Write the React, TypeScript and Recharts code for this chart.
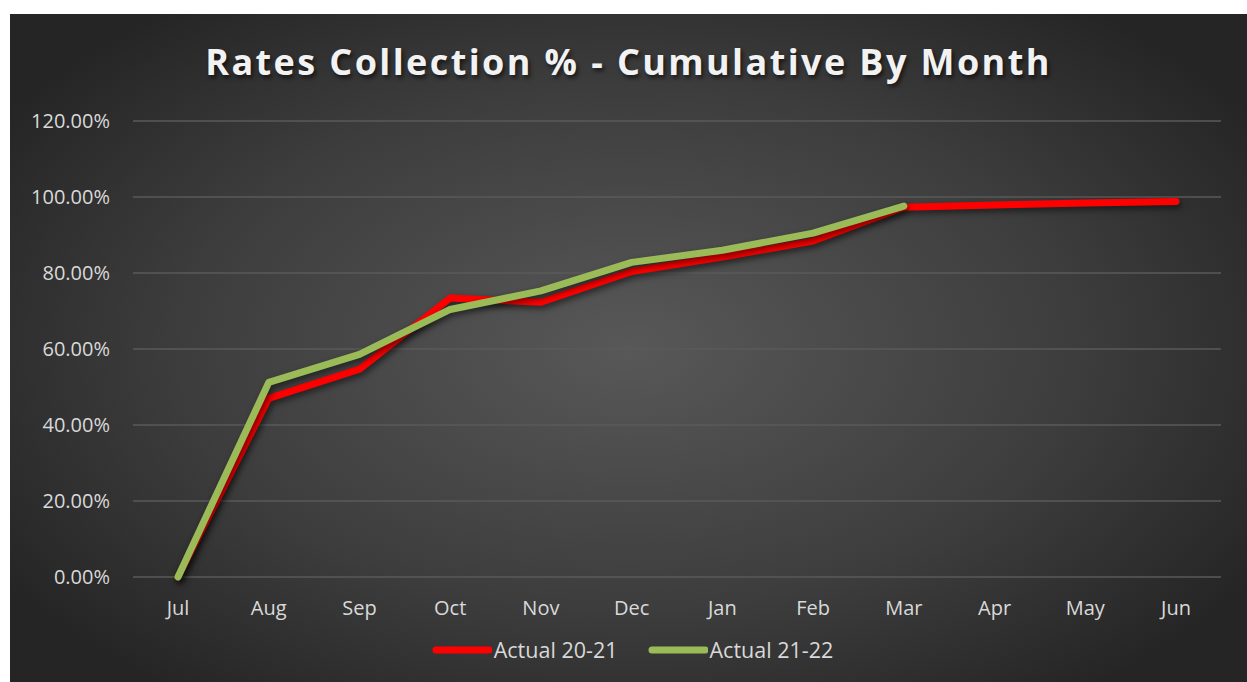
import React from 'react';
import {
  LineChart,
  Line,
  XAxis,
  YAxis,
  CartesianGrid,
  Legend,
} from 'recharts';

// 月ラベル（7月始まりの年度）
const months = ['Jul', 'Aug', 'Sep', 'Oct', 'Nov', 'Dec', 'Jan', 'Feb', 'Mar', 'Apr', 'May', 'Jun'];
// 累積回収率（%）
const actual2021 = [0, 47.0, 54.7, 73.4, 72.3, 80.4, 84.2, 88.4, 97.3, 97.9, 98.4, 98.8];
const actual2122: (number | null)[] = [0, 51.2, 58.6, 70.4, 75.3, 82.8, 86.0, 90.5, 97.6, null, null, null];
const yTicks = [0, 20, 40, 60, 80, 100, 120];

const seriesInfo = [
  { key: 'a2021', name: 'Actual 20-21', color: '#ff0000' },
  { key: 'a2122', name: 'Actual 21-22', color: '#9bbb59' },
];

const data = months.map((m, i) => ({
  month: m,
  a2021: actual2021[i],
  a2122: actual2122[i],
}));

const FONT = '"Open Sans", sans-serif';
const TEXT = '#d9d9d9';

const LegendContent = () => (
  <div style={{ display: 'flex', justifyContent: 'center', alignItems: 'center', fontFamily: FONT, fontSize: 21.5, color: TEXT, paddingTop: 5, paddingLeft: 34 }}>
    {seriesInfo.map((s, i) => (
      <div key={s.key} style={{ display: 'flex', alignItems: 'center', marginLeft: i === 0 ? 0 : 30 }}>
        <svg width={60} height={10} style={{ marginRight: 2 }}>
          <line x1={4} y1={5} x2={57} y2={5} stroke={s.color} strokeWidth={7} strokeLinecap="round" />
        </svg>
        <span>{s.name}</span>
      </div>
    ))}
  </div>
);

const App: React.FC = () => {
  return (
    <div
      style={{
        position: 'absolute',
        left: 10,
        top: 14,
        width: 1237,
        height: 668,
        background: 'radial-gradient(ellipse 60% 65% at 50% 50%, #585858 0%, #3d3d3d 60%, #252525 100%)',
        overflow: 'hidden',
      }}
    >
      <div
        style={{
          position: 'absolute',
          top: 24,
          left: 0,
          width: 1237,
          textAlign: 'center',
          fontFamily: FONT,
          fontWeight: 700,
          fontSize: 36,
          letterSpacing: 2.4,
          color: '#f2f2f2',
          textShadow: '2px 3px 4px rgba(0,0,0,0.6)',
          lineHeight: '48px',
        }}
      >
        Rates Collection % - Cumulative By Month
      </div>
      <LineChart
        width={1237}
        height={668}
        data={data}
        margin={{ top: 107, right: 26, left: 0, bottom: 22 }}
      >
        <CartesianGrid vertical={false} stroke="#5a5a5a" strokeWidth={1.3} />
        <XAxis
          dataKey="month"
          axisLine={false}
          tickLine={false}
          height={53}
          tickMargin={18}
          padding={{ left: 45, right: 45 }}
          tick={{ fill: TEXT, fontSize: 20, fontFamily: FONT }}
        />
        <YAxis
          domain={[0, 120]}
          ticks={yTicks}
          width={123}
          axisLine={false}
          tickLine={false}
          tickMargin={17}
          tick={{ fill: TEXT, fontSize: 20, fontFamily: FONT }}
          tickFormatter={(v: number) => `${v.toFixed(2)}%`}
        />
        <Legend verticalAlign="bottom" height={30} content={<LegendContent />} />
        {seriesInfo.map((s) => (
          <Line
            key={s.key}
            type="linear"
            dataKey={s.key}
            name={s.name}
            stroke={s.color}
            strokeWidth={7}
            strokeLinecap="round"
            strokeLinejoin="round"
            dot={false}
            activeDot={false}
            connectNulls={false}
            isAnimationActive={false}
            style={{ filter: 'drop-shadow(2px 3px 3px rgba(0,0,0,0.55))' }}
          />
        ))}
      </LineChart>
    </div>
  );
};

export default App;
